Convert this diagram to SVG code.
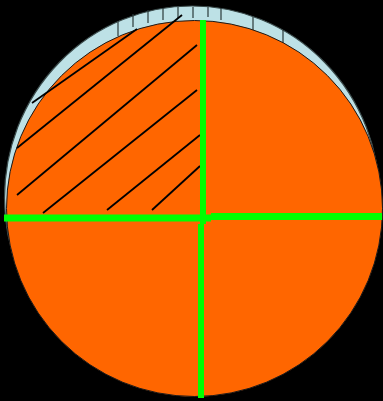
<svg xmlns="http://www.w3.org/2000/svg" width="383" height="401" viewBox="0 0 383 401">
<style>
.hatch{stroke:#000;stroke-width:1.8;fill:none}
.tick{stroke:#2a3a3a;stroke-width:1.2}
.green{fill:#00ff00}
</style>
<rect width="383" height="401" fill="#000"/>
<g id="back-disc">
<ellipse cx="192" cy="198" rx="187.5" ry="192" fill="#bde1e6" stroke="#3a4a4a" stroke-width="1.2"/>
<g>
<line class="tick" x1="118" y1="22" x2="118" y2="36"/>
<line class="tick" x1="133" y1="14" x2="133" y2="27"/>
<line class="tick" x1="148" y1="10" x2="148" y2="23"/>
<line class="tick" x1="163" y1="8" x2="163" y2="20"/>
<line class="tick" x1="178" y1="7" x2="178" y2="18"/>
<line class="tick" x1="193" y1="7" x2="193" y2="18"/>
<line class="tick" x1="208" y1="7" x2="208" y2="17"/>
<line class="tick" x1="221" y1="8" x2="221" y2="20"/>
<line class="tick" x1="253" y1="17" x2="253" y2="31"/>
<line class="tick" x1="283" y1="30" x2="283" y2="43"/>
</g>
</g>
<g id="front-disc">
<circle cx="194.5" cy="208.5" r="188" fill="#ff6600" stroke="#1a1a1a" stroke-width="1"/>
</g>
<g id="hatching">
<line class="hatch" x1="32" y1="103" x2="137" y2="29"/>
<line class="hatch" x1="17" y1="148" x2="182" y2="15"/>
<line class="hatch" x1="17" y1="195" x2="197" y2="45"/>
<line class="hatch" x1="43" y1="213" x2="197" y2="90"/>
<line class="hatch" x1="107" y1="210" x2="200" y2="135"/>
<line class="hatch" x1="152" y1="210" x2="200" y2="166"/>
</g>
<g id="connectors">
<rect class="green" x="200" y="20" width="6" height="204"/>
<rect class="green" x="198" y="224" width="6" height="174"/>
<rect class="green" x="4" y="214.5" width="207" height="7"/>
<rect class="green" x="211" y="213" width="171" height="7"/>
</g>
</svg>
